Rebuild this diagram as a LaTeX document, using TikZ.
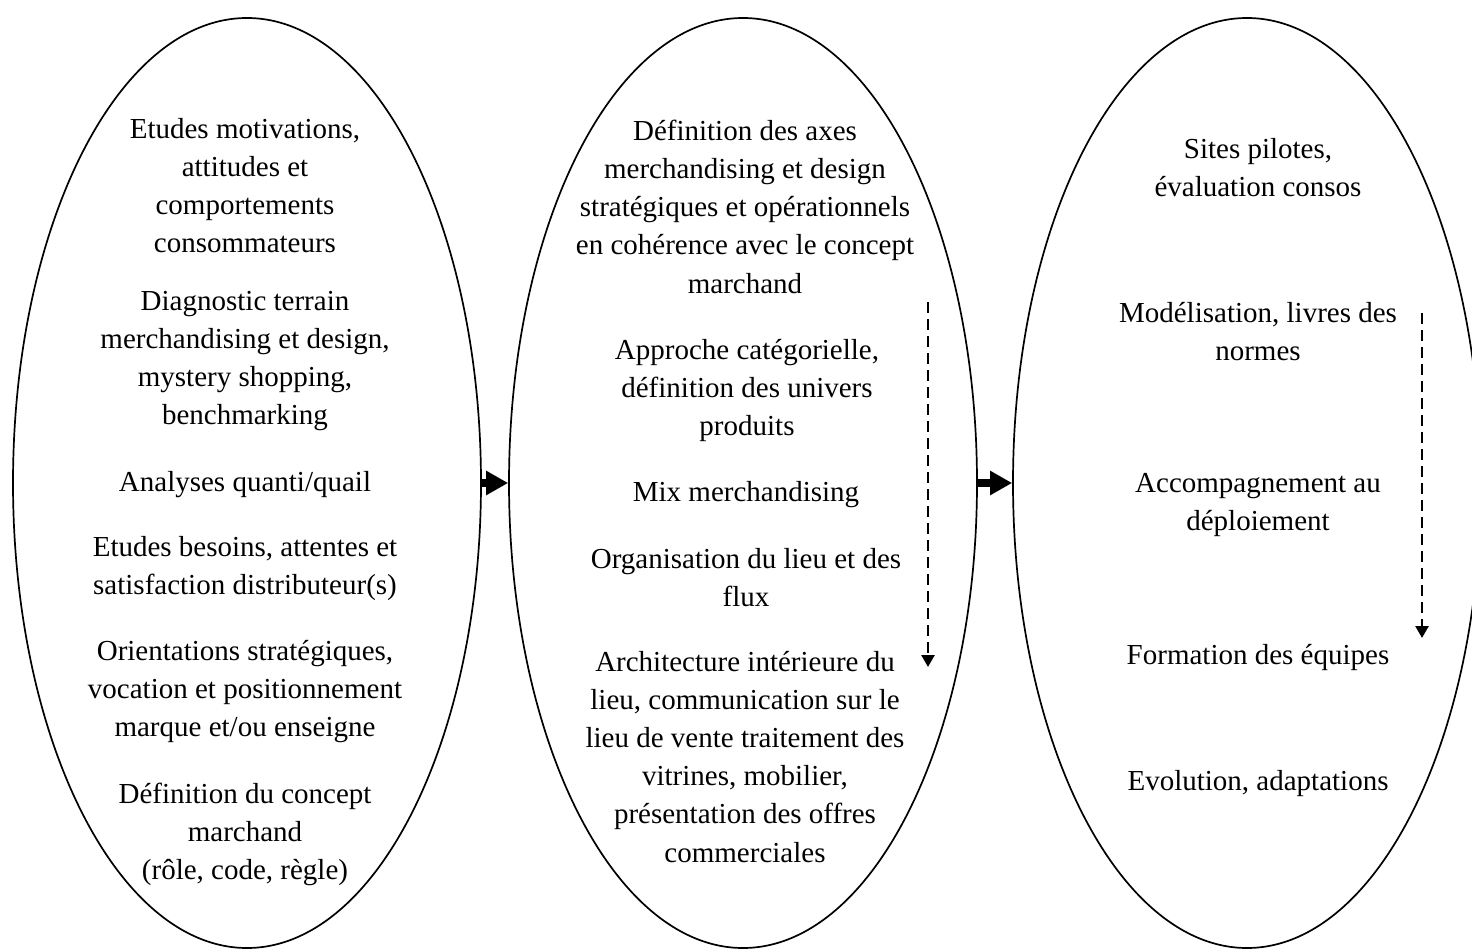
\documentclass[tikz,border=0pt]{standalone}
\usepackage{fontspec}
\setmainfont{Liberation Serif}
\usetikzlibrary{shapes.geometric,arrows.meta}
\newcommand\blk[1]{\begin{tabular}{@{}c@{}}#1\end{tabular}}
\begin{document}
\begin{tikzpicture}[x=1pt,y=-1pt,
  ell/.style={draw, line width=1.7pt, ellipse, minimum width=468pt, minimum height=930pt, inner sep=0pt},
  txt/.style={font=\fontsize{29}{38.2}\selectfont, inner sep=0pt, anchor=center},
  bigarrow/.style={line width=8pt, -{Triangle[width=23pt,length=22pt]}},
  dasharrow/.style={line width=2.6pt, dash pattern=on 11pt off 6pt, -{Triangle[width=13pt,length=12pt]}}]
\fill[white] (0,0) rectangle (1472,952);
\useasboundingbox (0,0) rectangle (1472,952);

\node[ell] (E1) at (247,483) {};
\node[ell] (E2) at (743,483) {};
\node[ell] (E3) at (1247,483) {};

\draw[bigarrow] (E1.east) -- (E2.west);
\draw[bigarrow] (E2.east) -- (E3.west);

\coordinate (d1s) at (928,302);
\coordinate (d1e) at (928,667);
\coordinate (d2s) at (1422,313);
\coordinate (d2e) at (1422,638);
\draw[dasharrow] (d1s) -- (d1e);
\draw[dasharrow] (d2s) -- (d2e);

% left
\node[txt] (L1) at (245,188) {\blk{Etudes motivations,\\attitudes et\\comportements\\consommateurs}};
\node[txt] (L2) at (245,360) {\blk{Diagnostic terrain\\merchandising et design,\\mystery shopping,\\benchmarking}};
\node[txt] (L3) at (245,484) {\blk{Analyses quanti/quail}};
\node[txt] (L4) at (245,568) {\blk{Etudes besoins, attentes et\\satisfaction distributeur(s)}};
\node[txt] (L5) at (245,691) {\blk{Orientations stratégiques,\\vocation et positionnement\\marque et/ou enseigne}};
\node[txt] (L6) at (245,834) {\blk{Définition du concept\\marchand\\(rôle, code, règle)}};

% middle
\node[txt] (M1) at (745,209) {\blk{Définition des axes\\merchandising et design\\stratégiques et opérationnels\\en cohérence avec le concept\\marchand}};
\node[txt] (M2) at (747,390) {\blk{Approche catégorielle,\\définition des univers\\produits}};
\node[txt] (M3) at (746,494) {\blk{Mix merchandising}};
\node[txt] (M4) at (746,580) {\blk{Organisation du lieu et des\\flux}};
\node[txt] (M5) at (745,759) {\blk{Architecture intérieure du\\lieu, communication sur le\\lieu de vente traitement des\\vitrines, mobilier,\\présentation des offres\\commerciales}};

% right
\node[txt] (R1) at (1258,170) {\blk{Sites pilotes,\\évaluation consos}};
\node[txt] (R2) at (1258,334) {\blk{Modélisation, livres des\\normes}};
\node[txt] (R3) at (1258,504) {\blk{Accompagnement au\\déploiement}};
\node[txt] (R4) at (1258,657) {\blk{Formation des équipes}};
\node[txt] (R5) at (1258,783) {\blk{Evolution, adaptations}};
\end{tikzpicture}
\end{document}
